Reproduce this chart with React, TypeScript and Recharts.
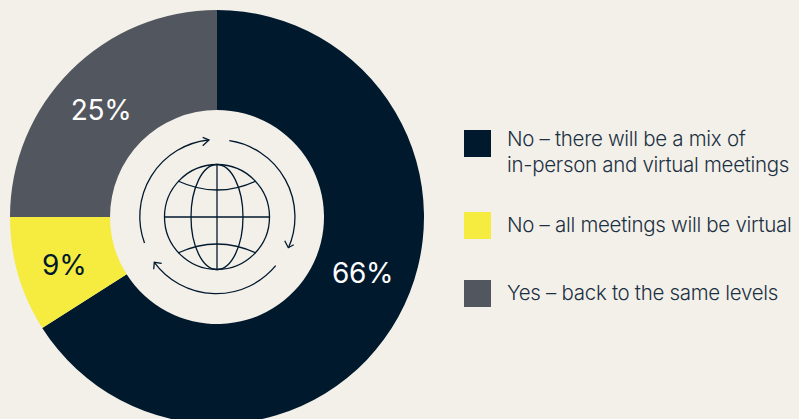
import React from "react";
import { PieChart, Pie, Cell, Legend } from "recharts";

const categories = [
  "No – there will be a mix of\nin-person and virtual meetings",
  "No – all meetings will be virtual",
  "Yes – back to the same levels",
];
const shares = [66, 9, 25];
const sliceColors = ["#00192d", "#f5ec3f", "#52565e"];
const labelColors = ["#ffffff", "#00192d", "#ffffff"];
const labelNudges = [
  [8, -20],
  [-2, 4],
  [-5, 4],
];
const keyRowGaps = [33.75, 40.5, 0];
const keySwatchOffsets = [4.5, 0, 0];

const FONT = "Inter, 'Noto Sans', sans-serif";
const WIDTH = 799;
const HEIGHT = 419;
const CX = 217;
const CY = 217;
const INK = "#00192d";

const rows = categories.map((name, i) => ({ name, value: shares[i] }));
const RAD = Math.PI / 180;

function renderShare(props: any) {
  const { cx, cy, midAngle, innerRadius, outerRadius, value, index } = props;
  const r = (innerRadius + outerRadius) / 2;
  const [dx, dy] = labelNudges[index];
  return (
    <text
      x={cx + r * Math.cos(-midAngle * RAD) + dx}
      y={cy + r * Math.sin(-midAngle * RAD) + dy}
      fill={labelColors[index]}
      textAnchor="middle"
      dominantBaseline="central"
      fontFamily={FONT}
      fontSize={28}
      letterSpacing={-0.3}
      fontWeight={400}
    >
      {value}%
    </text>
  );
}

function KeyList({ payload }: any) {
  return (
    <div style={{ fontFamily: FONT, fontSize: 20.5, letterSpacing: -0.3, fontWeight: 300, lineHeight: "26.5px", color: "#1c3042" }}>
      {(payload ?? []).map((entry: any, i: number) => (
        <div key={i} style={{ display: "flex", alignItems: "flex-start", marginBottom: keyRowGaps[i] }}>
          <span
            style={{ width: 27, height: 27, background: entry.color, flex: "none", marginRight: 16, marginTop: keySwatchOffsets[i] }}
          />
          <span style={{ whiteSpace: "pre" }}>{entry.value}</span>
        </div>
      ))}
    </div>
  );
}

// Line-art globe with three circling arrows, set in the middle of the ring.
function GlobeIcon() {
  return (
    <g fill="none" stroke={INK} strokeWidth={1.3} transform={`translate(${CX} ${CY})`}>
      <circle r={52.5} />
      <ellipse rx={26} ry={52.5} />
      <line x1={0} y1={-52.5} x2={0} y2={52.5} />
      <line x1={-52.5} y1={0} x2={52.5} y2={0} />
      <path d="M-39 -36 Q0 -18 39 -36" />
      <path d="M-39 36 Q0 18 39 36" />
      <path d="M-72.5 26 A77 77 0 0 1 -9 -77" />
      <path d="M-14.3 -79.7 L-8 -77 L-14.3 -71.3" />
      <path d="M12.3 -76.3 A77 77 0 0 1 71.5 30.7" />
      <path d="M67.7 23.7 L71.3 30.7 L76.7 27.7" />
      <path d="M58.7 48.7 A77 77 0 0 1 -62.7 45.3" />
      <path d="M-63.3 52.3 L-62.7 45.3 L-55.3 46.3" />
    </g>
  );
}

export default function App() {
  return (
    <div style={{ position: "fixed", left: 0, top: 0, width: WIDTH, height: HEIGHT, background: "#f3f0ea", overflow: "hidden" }}>
      <PieChart width={WIDTH} height={HEIGHT} margin={{ top: 0, right: 0, bottom: 0, left: 0 }}>
        <Pie
          data={rows}
          dataKey="value"
          nameKey="name"
          cx={CX}
          cy={CY}
          innerRadius={107}
          outerRadius={207}
          startAngle={90}
          endAngle={-270}
          stroke="none"
          label={renderShare}
          labelLine={false}
          isAnimationActive={false}
        >
          {rows.map((_, i) => (
            <Cell key={i} fill={sliceColors[i]} />
          ))}
        </Pie>
        <GlobeIcon />
        <Legend
          content={<KeyList />}
          itemSorter={null}
          layout="vertical"
          wrapperStyle={{ position: "absolute", left: 464, top: 125.5, width: 335, bottom: "auto", right: "auto" }}
        />
      </PieChart>
    </div>
  );
}
